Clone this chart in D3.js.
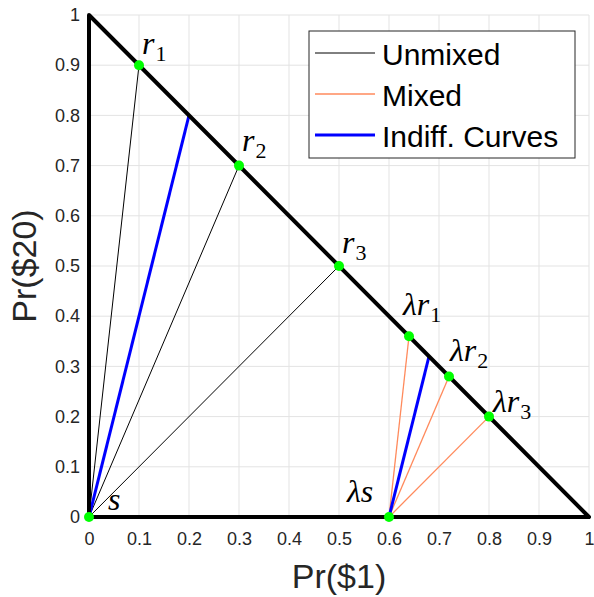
<!DOCTYPE html>
<html>
<head>
<meta charset="utf-8">
<script src="https://cdn.jsdelivr.net/npm/d3@7"></script>
<style>
  body { margin: 0; background: #fff; }
  .tick text { font-family: "Liberation Sans", Arial, sans-serif; font-size: 18px; fill: #262626; }
  .math { font-family: "Liberation Serif", "Times New Roman", serif; font-style: italic; font-size: 32px; fill: #000; }
  .legend text { font-family: "Liberation Sans", Arial, sans-serif; font-size: 30px; fill: #000; }
</style>
</head>
<body>
<svg id="chart" width="594" height="597"></svg>
<script>
// tick values / labels (both axes share them)
const tickValues = [0, 0.1, 0.2, 0.3, 0.4, 0.5, 0.6, 0.7, 0.8, 0.9, 1];
const tickLabels = ["0", "0.1", "0.2", "0.3", "0.4", "0.5", "0.6", "0.7", "0.8", "0.9", "1"];

// probability simplex boundary
const simplex = [[0, 0], [0, 1], [1, 0], [0, 0]];

// lotteries
const sPoint = [0, 0];
const rPoints = [[0.1, 0.9], [0.3, 0.7], [0.5, 0.5]];
const lambdaS = [0.6, 0];
const mixedPoints = [[0.64, 0.36], [0.72, 0.28], [0.8, 0.2]];

// indifference curves
const indiffCurves = [
  [[0, 0], [0.2, 0.8]],
  [[0.6, 0], [0.68, 0.32]]
];

// point labels: prefix, letter, subscript
const pointLabels = [
  { p: sPoint, pre: "", sym: "s", sub: "" },
  { p: rPoints[0], pre: "", sym: "r", sub: "1" },
  { p: rPoints[1], pre: "", sym: "r", sub: "2" },
  { p: rPoints[2], pre: "", sym: "r", sub: "3" },
  { p: lambdaS, pre: "\u03bb", sym: "s", sub: "" },
  { p: mixedPoints[0], pre: "\u03bb", sym: "r", sub: "1" },
  { p: mixedPoints[1], pre: "\u03bb", sym: "r", sub: "2" },
  { p: mixedPoints[2], pre: "\u03bb", sym: "r", sub: "3" }
];
// label offsets in px from the point (layout only)
const labelOffsets = [[19, -7], [3, -11], [3, -15], [3, -13], [-42, -15], [-6, -21], [1, -15], [4, -5]];

const legendItems = ["Unmixed", "Mixed", "Indiff. Curves"];
const legendColors = ["#000000", "#ff8a5c", "#0000ff"];
const legendWidths = [1, 1.3, 3];

var svg = d3.select("#chart"),
  margin = { top: 15, right: 5, bottom: 80, left: 89 },
  width = +svg.attr("width") - margin.left - margin.right,
  height = +svg.attr("height") - margin.top - margin.bottom;

var x = d3.scaleLinear().domain([0, 1]).range([0, width]);
var y = d3.scaleLinear().domain([0, 1]).range([height, 0]);

var g = svg.append("g")
  .attr("transform", "translate(" + margin.left + "," + margin.top + ")");

// grid
g.selectAll(".vgrid").data(tickValues).enter().append("line")
  .attr("x1", d => x(d)).attr("x2", d => x(d))
  .attr("y1", 0).attr("y2", height)
  .attr("stroke", "#e3e3e3").attr("stroke-width", 1);
g.selectAll(".hgrid").data(tickValues).enter().append("line")
  .attr("y1", d => y(d)).attr("y2", d => y(d))
  .attr("x1", 0).attr("x2", width)
  .attr("stroke", "#e3e3e3").attr("stroke-width", 1);

// axes (labels only)
g.append("g")
  .attr("class", "x axis")
  .attr("transform", "translate(0," + height + ")")
  .call(d3.axisBottom(x).tickValues(tickValues).tickFormat((d, i) => tickLabels[i]).tickSize(0).tickPadding(15))
  .call(a => a.select(".domain").remove());
g.append("g")
  .attr("class", "y axis")
  .call(d3.axisLeft(y).tickValues(tickValues).tickFormat((d, i) => tickLabels[i]).tickSize(0).tickPadding(9))
  .call(a => a.select(".domain").remove());

var line = d3.line().x(d => x(d[0])).y(d => y(d[1]));

// unmixed lines
rPoints.forEach(function(r) {
  g.append("path").attr("d", line([sPoint, r]))
    .attr("fill", "none").attr("stroke", legendColors[0]).attr("stroke-width", legendWidths[0]);
});
// mixed lines
mixedPoints.forEach(function(m) {
  g.append("path").attr("d", line([lambdaS, m]))
    .attr("fill", "none").attr("stroke", legendColors[1]).attr("stroke-width", legendWidths[1]);
});
// indifference curves
indiffCurves.forEach(function(c) {
  g.append("path").attr("d", line(c))
    .attr("fill", "none").attr("stroke", legendColors[2]).attr("stroke-width", legendWidths[2]);
});

// simplex boundary
g.append("path").attr("d", line(simplex))
  .attr("fill", "none").attr("stroke", "#000").attr("stroke-width", 4)
  .attr("stroke-linejoin", "round");

// points
var allPoints = [sPoint].concat(rPoints, [lambdaS], mixedPoints);
g.selectAll(".dot").data(allPoints).enter().append("circle")
  .attr("cx", d => x(d[0])).attr("cy", d => y(d[1])).attr("r", 5)
  .attr("fill", "#00ff00");

// labels
pointLabels.forEach(function(l, i) {
  var t = g.append("text").attr("class", "math")
    .attr("x", x(l.p[0]) + labelOffsets[i][0])
    .attr("y", y(l.p[1]) + labelOffsets[i][1]);
  t.append("tspan").text(l.pre + l.sym);
  if (l.sub) {
    t.append("tspan").text(l.sub)
      .attr("dx", 1).attr("dy", 7)
      .style("font-style", "normal").style("font-size", "22px");
  }
});

// axis titles
svg.append("text")
  .attr("x", margin.left + width / 2).attr("y", 588)
  .attr("text-anchor", "middle")
  .style("font-family", "'Liberation Sans', Arial, sans-serif").style("font-size", "34px").style("fill", "#262626")
  .text("Pr($1)");
svg.append("text")
  .attr("transform", "translate(36," + (margin.top + height / 2) + ") rotate(-90)")
  .attr("text-anchor", "middle")
  .style("font-family", "'Liberation Sans', Arial, sans-serif").style("font-size", "34px").style("fill", "#262626")
  .text("Pr($20)");

// legend
var legend = svg.append("g").attr("class", "legend").attr("transform", "translate(309,31)");
legend.append("rect")
  .attr("x", 0).attr("y", 0).attr("width", 266).attr("height", 127)
  .attr("fill", "#fff").attr("stroke", "#262626").attr("stroke-width", 1);
legendItems.forEach(function(name, i) {
  var row = legend.append("g").attr("transform", "translate(0," + (22 + i * 41) + ")");
  row.append("line").attr("x1", 6).attr("x2", 66).attr("y1", 0).attr("y2", 0)
    .attr("stroke", legendColors[i]).attr("stroke-width", legendWidths[i]);
  row.append("text").attr("x", 73).attr("y", 12).text(name);
});
</script>
</body>
</html>
